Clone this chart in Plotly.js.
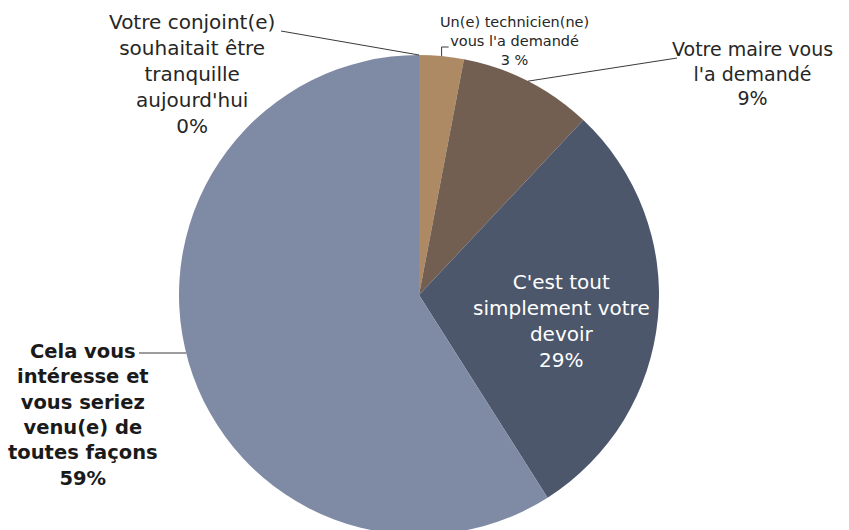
<!DOCTYPE html>
<html>
<head>
<meta charset="utf-8">
<script src="https://cdn.plot.ly/plotly-3.0.1.min.js"></script>
<style>html,body{margin:0;padding:0;overflow:hidden;background:#fff;}</style>
</head>
<body>
<div id="chart"></div>
<script>
const labels = [
  "Un(e) technicien(ne) vous l'a demandé",
  "Votre maire vous l'a demandé",
  "C'est tout simplement votre devoir",
  "Cela vous intéresse et vous seriez venu(e) de toutes façons",
  "Votre conjoint(e) souhaitait être tranquille aujourd'hui"
];
const values = [3, 9, 29, 59, 0];
const colors = ["#AD8A63", "#725F52", "#4C576B", "#7F8AA4", "#7F8AA4"];

const W = 849, H = 560;
const cx = 419, cy = 295, R = 240;
const px = x => x / W;
const py = y => 1 - y / H;

const total = values.reduce((a, b) => a + b, 0);
let cum = 0;
const mids = values.map(v => { const m = (cum + v / 2) / total; cum += v; return m; });
function edge(f) {
  const t = 2 * Math.PI * f;
  return [cx + R * Math.sin(t), cy - R * Math.cos(t)];
}

const trace = {
  type: 'pie',
  labels: labels,
  values: values,
  sort: false,
  direction: 'clockwise',
  rotation: 0,
  textinfo: 'none',
  hoverinfo: 'none',
  marker: {colors: colors, line: {width: 0}},
  domain: {x: [px(cx - R), px(cx + R)], y: [py(cy + R), py(cy - R)]},
  showlegend: false
};

const font = {family: 'DejaVu Sans, Verdana, sans-serif', size: 20, color: '#262626'};
function ann(text, x, y, f) {
  return {text: text, x: px(x), y: py(y), xref: 'paper', yref: 'paper', showarrow: false,
          xanchor: 'center', yanchor: 'top', align: 'center', font: Object.assign({}, font, f || {})};
}
const pct = values.map(v => Math.round(v / total * 100) + '%');

const annotations = [
  ann("Votre conjoint(e)<br>souhaitait être<br>tranquille<br>aujourd'hui<br>" + pct[4], 192, 8),
  ann("Un(e) technicien(ne)<br>vous l'a demandé<br>" + pct[0].replace('%', ' %'), 514, 12, {size: 14.5}),
  ann("Votre maire vous<br>l'a demandé<br>" + pct[1], 752, 36, {size: 19}),
  ann("C'est tout<br>simplement votre<br>devoir<br>" + pct[2], 561, 268, {color: '#ffffff'}),
  ann("<b>Cela vous<br>intéresse et<br>vous seriez<br>venu(e) de<br>toutes façons<br>" + pct[3] + "</b>", 83, 338,
      {size: 19.5, color: '#1a1a1a'})
];

function pathOf(pts) {
  return pts.map((p, i) => (i ? 'L' : 'M') + px(p[0]) + ',' + py(p[1])).join(' ');
}
const lc = {color: '#3a3a3a', width: 1};
const pConj = edge(mids[4]);
const pTech = edge(mids[0]);
const pMaire = edge(mids[1]);
const yCela = 353;
const xCela = cx - Math.sqrt(R * R - (yCela - cy) * (yCela - cy));
const shapes = [
  {type: 'path', xref: 'paper', yref: 'paper', path: pathOf([[281, 31], pConj]), line: lc},
  {type: 'path', xref: 'paper', yref: 'paper', path: pathOf([pTech, [pTech[0], 47], [pTech[0] + 7, 47]]), line: lc},
  {type: 'path', xref: 'paper', yref: 'paper', path: pathOf([pMaire, [677, 58]]), line: lc},
  {type: 'path', xref: 'paper', yref: 'paper', path: pathOf([[139, yCela], [xCela, yCela]]), line: lc}
];

const layout = {
  width: W, height: H,
  margin: {l: 0, r: 0, t: 0, b: 0},
  paper_bgcolor: '#ffffff',
  annotations: annotations,
  shapes: shapes
};
Plotly.newPlot('chart', [trace], layout, {displayModeBar: false, staticPlot: true});
</script>
</body>
</html>
